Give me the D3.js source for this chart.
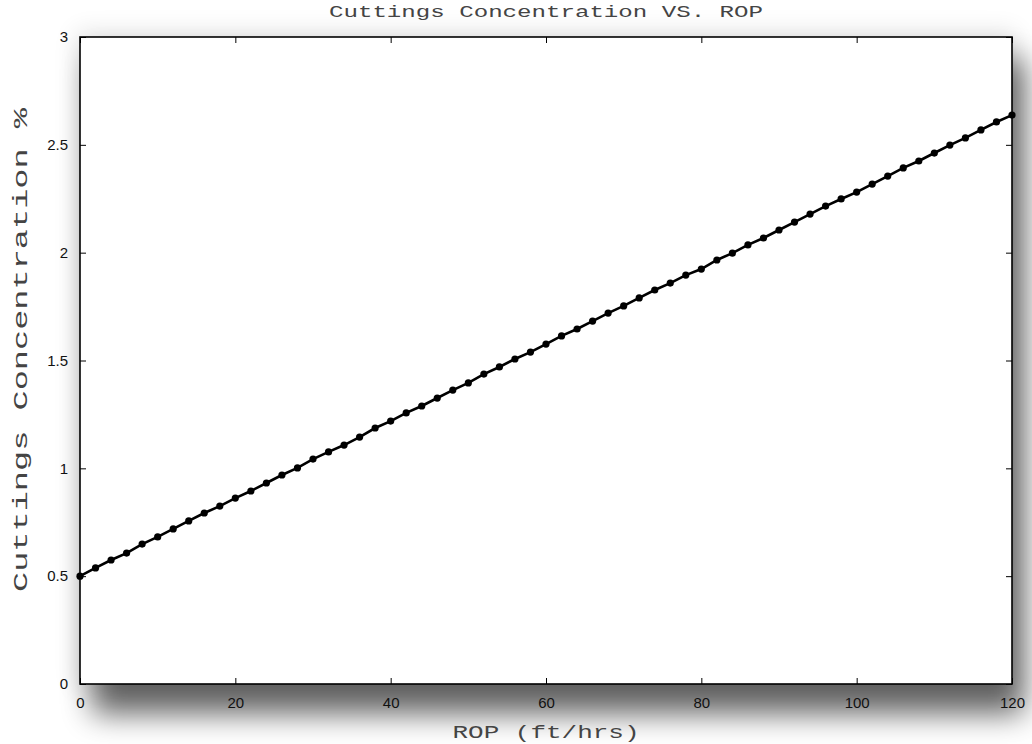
<!DOCTYPE html>
<html>
<head>
<meta charset="utf-8">
<script src="https://cdn.jsdelivr.net/npm/d3@7"></script>
<style>
  html, body { margin: 0; padding: 0; background: #fff; }
  svg { display: block; }
</style>
</head>
<body>
<svg id="chart" width="1032" height="744"></svg>
<script>
// ROP in ft/hrs (sampled every 2 ft/hrs)
const rop = [
  0, 2, 4, 6, 8, 10, 12, 14, 16, 18,
  20, 22, 24, 26, 28, 30, 32, 34, 36, 38,
  40, 42, 44, 46, 48, 50, 52, 54, 56, 58,
  60, 62, 64, 66, 68, 70, 72, 74, 76, 78,
  80, 82, 84, 86, 88, 90, 92, 94, 96, 98,
  100, 102, 104, 106, 108, 110, 112, 114, 116, 118, 120
];
// Cuttings concentration in percent
const concentration = [
  0.500, 0.538, 0.575, 0.607, 0.649, 0.682, 0.719, 0.756, 0.793, 0.825,
  0.862, 0.895, 0.932, 0.969, 1.002, 1.043, 1.076, 1.108, 1.145, 1.187,
  1.219, 1.257, 1.289, 1.326, 1.363, 1.396, 1.437, 1.470, 1.507, 1.539,
  1.576, 1.614, 1.646, 1.683, 1.720, 1.753, 1.790, 1.827, 1.859, 1.896,
  1.924, 1.966, 1.998, 2.036, 2.068, 2.105, 2.142, 2.179, 2.216, 2.249,
  2.281, 2.318, 2.355, 2.393, 2.425, 2.462, 2.499, 2.532, 2.569, 2.606, 2.638
];
const xTicks = [0, 20, 40, 60, 80, 100, 120];
const yTicks = [0, 0.5, 1, 1.5, 2, 2.5, 3];
const xTickLabels = ["0", "20", "40", "60", "80", "100", "120"];
const yTickLabels = ["0", "0.5", "1", "1.5", "2", "2.5", "3"];

const svg = d3.select("#chart");
const plot = { left: 80, top: 37, right: 1012, bottom: 684 };

const x = d3.scaleLinear().domain([0, 120]).range([plot.left, plot.right]);
const y = d3.scaleLinear().domain([0, 3]).range([plot.bottom, plot.top]);

// Soft drop shadow behind the axes box
const defs = svg.append("defs");
const sh = defs.append("filter").attr("id", "shadow")
  .attr("x", "-15%").attr("y", "-20%").attr("width", "130%").attr("height", "145%");
sh.append("feGaussianBlur").attr("in", "SourceGraphic").attr("stdDeviation", 15);
const glow = defs.append("filter").attr("id", "glow")
  .attr("x", "-10%").attr("y", "-15%").attr("width", "120%").attr("height", "130%");
glow.append("feGaussianBlur").attr("in", "SourceGraphic").attr("stdDeviation", 12);

svg.append("rect")
  .attr("x", plot.left - 4).attr("y", plot.top - 6)
  .attr("width", plot.right - plot.left + 8).attr("height", plot.bottom - plot.top + 10)
  .attr("fill", "#000").attr("opacity", 0.1).attr("filter", "url(#glow)");
svg.append("rect")
  .attr("x", plot.left + 12).attr("y", plot.top + 22)
  .attr("width", plot.right - plot.left).attr("height", plot.bottom - plot.top + 8)
  .attr("fill", "#000").attr("opacity", 0.6).attr("filter", "url(#shadow)");

// Axes background
svg.append("rect")
  .attr("x", plot.left).attr("y", plot.top)
  .attr("width", plot.right - plot.left).attr("height", plot.bottom - plot.top)
  .attr("fill", "#fff");

// Inward ticks on all four sides
const tickLen = 6;
const bottomAxis = d3.axisBottom(x).tickValues(xTicks).tickSizeInner(-tickLen).tickSizeOuter(0)
  .tickFormat((d, i) => xTickLabels[i]).tickPadding(13);
const topAxis = d3.axisTop(x).tickValues(xTicks).tickSizeInner(-tickLen).tickSizeOuter(0)
  .tickFormat("");
const leftAxis = d3.axisLeft(y).tickValues(yTicks).tickSizeInner(-tickLen).tickSizeOuter(0)
  .tickFormat((d, i) => yTickLabels[i]).tickPadding(12);
const rightAxis = d3.axisRight(y).tickValues(yTicks).tickSizeInner(-tickLen).tickSizeOuter(0)
  .tickFormat("");

function styleAxis(g) {
  g.select(".domain").remove();
  g.selectAll(".tick line").attr("stroke", "#000").attr("stroke-width", 1);
  g.selectAll(".tick text")
    .attr("fill", "#111")
    .style("font-family", "'Liberation Sans', Arial, sans-serif")
    .style("font-size", "15px");
}
svg.append("g").attr("transform", `translate(0,${plot.bottom})`).call(bottomAxis).call(styleAxis);
svg.append("g").attr("transform", `translate(0,${plot.top})`).call(topAxis).call(styleAxis);
svg.append("g").attr("transform", `translate(${plot.left},0)`).call(leftAxis).call(styleAxis);
svg.append("g").attr("transform", `translate(${plot.right},0)`).call(rightAxis).call(styleAxis);

// Axes box
svg.append("rect")
  .attr("x", plot.left).attr("y", plot.top)
  .attr("width", plot.right - plot.left).attr("height", plot.bottom - plot.top)
  .attr("fill", "none").attr("stroke", "#000").attr("stroke-width", 1.6);

// Data line with point markers
const pts = rop.map((r, i) => [r, concentration[i]]);
svg.append("path")
  .datum(pts)
  .attr("fill", "none")
  .attr("stroke", "#000")
  .attr("stroke-width", 2.6)
  .attr("d", d3.line().x(d => x(d[0])).y(d => y(d[1])));
svg.append("g").selectAll("circle")
  .data(pts)
  .join("circle")
  .attr("cx", d => x(d[0]))
  .attr("cy", d => y(d[1]))
  .attr("r", 3.6)
  .attr("fill", "#000");

// Titles (monospace, widened to the figure's text extents)
const mono = "'Liberation Mono', 'DejaVu Sans Mono', monospace";
svg.append("text")
  .attr("x", (plot.left + plot.right) / 2).attr("y", 17)
  .attr("text-anchor", "middle")
  .attr("textLength", 434).attr("lengthAdjust", "spacingAndGlyphs")
  .style("font-family", mono).style("font-size", "16px").attr("fill", "#444")
  .text("Cuttings Concentration VS. ROP");

svg.append("text")
  .attr("x", (plot.left + plot.right) / 2).attr("y", 738)
  .attr("text-anchor", "middle")
  .attr("textLength", 187).attr("lengthAdjust", "spacingAndGlyphs")
  .style("font-family", mono).style("font-size", "18px").attr("fill", "#444")
  .text("ROP (ft/hrs)");

svg.append("text")
  .attr("transform", "translate(27,350) rotate(-90)")
  .attr("text-anchor", "middle")
  .attr("textLength", 484).attr("lengthAdjust", "spacingAndGlyphs")
  .style("font-family", mono).style("font-size", "20px").attr("fill", "#444")
  .text("Cuttings Concentration %");
</script>
</body>
</html>
